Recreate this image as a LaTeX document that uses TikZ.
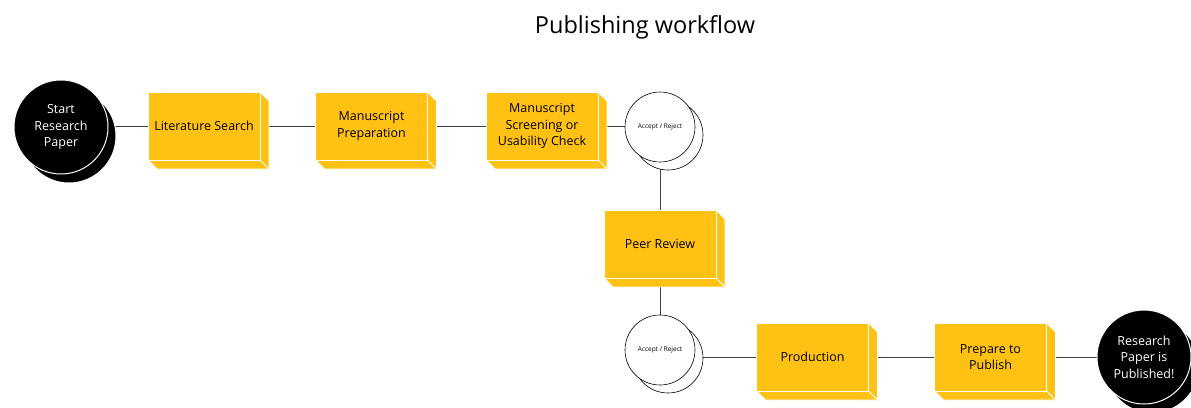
\documentclass[tikz,border=0pt]{standalone}
\usepackage{fontspec}
\setmainfont{Open Sans}
\usetikzlibrary{backgrounds}
\definecolor{yel}{HTML}{FFC214}
\definecolor{linec}{HTML}{404040}
\tikzset{
  stepbox/.style={fill=yel, draw=white, line width=0.9pt, minimum width=112pt, minimum height=68pt, inner sep=0pt, outer sep=0pt, align=center, font=\fontsize{12.5}{16.5}\selectfont},
  startend/.style={circle, fill=black, draw=white, line width=1pt, minimum size=94pt, inner sep=0pt, outer sep=0pt, align=center, text=white, font=\fontsize{12.5}{16.5}\selectfont},
  decision/.style={circle, fill=white, draw=black, line width=0.6pt, minimum size=70pt, inner sep=0pt, outer sep=0pt, font=\fontsize{6.5}{7}\selectfont},
  conn/.style={draw=linec, line width=0.8pt},
  face/.style={fill=yel, draw=white, line width=0.9pt, line join=round},
}
\newcommand\boxdepth[1]{%
  \path[face] (#1.north east) -- ([shift={(9,9)}]#1.north east) -- ([shift={(9,9)}]#1.south east) -- ([shift={(9,9)}]#1.south west) -- (#1.south west) -- cycle;
  \draw[white, line width=0.9pt] (#1.south east) -- ([shift={(9,9)}]#1.south east);
}
\begin{document}
\begin{tikzpicture}[x=1pt,y=-1pt]
\useasboundingbox (0,0) rectangle (1191,407);
\clip (0,0) rectangle (1191,407);
\node[font=\fontsize{23.5}{26}\selectfont] (title) at (645,27.5) {Publishing workflow};

\node[startend] (start) at (61,127) {Start\\Research\\Paper};
\node[stepbox] (lit) at (204,126) {Literature Search};
\node[stepbox] (prep) at (371.5,126) {Manuscript\\Preparation};
\node[stepbox] (screen) at (542,126) {Manuscript\\Screening or\\Usability Check};
\node[decision] (acc1) at (660,127) {Accept / Reject};
\node[stepbox] (peer) at (660,244) {Peer Review};
\node[decision] (acc2) at (660,350) {Accept / Reject};
\node[stepbox] (prod) at (812.5,357) {Production};
\node[stepbox] (pub) at (990.5,357) {Prepare to\\Publish};
\node[startend] (endc) at (1144,357) {Research\\Paper is\\Published!};

\begin{pgfonlayer}{background}
  \draw[conn] (start) -- (lit);
  \draw[conn] (lit) -- (prep);
  \draw[conn] (prep) -- (screen);
  \draw[conn] (screen) -- (screen -| acc1);
  \draw[conn] (acc1) -- (peer);
  \draw[conn] (peer) -- (acc2);
  \draw[conn] (prod.west -| acc2) -- (prod);
  \draw[conn] (prod) -- (pub);
  \draw[conn] (pub) -- (endc);
  \boxdepth{lit}
  \boxdepth{prep}
  \boxdepth{screen}
  \boxdepth{peer}
  \boxdepth{prod}
  \boxdepth{pub}
  \node[startend] at ([shift={(8,9)}]start.center) {};
  \node[startend] at ([shift={(8,9)}]endc.center) {};
  \node[decision] at ([shift={(8,8)}]acc1.center) {};
  \node[decision] at ([shift={(8,8)}]acc2.center) {};
\end{pgfonlayer}
\end{tikzpicture}
\end{document}
